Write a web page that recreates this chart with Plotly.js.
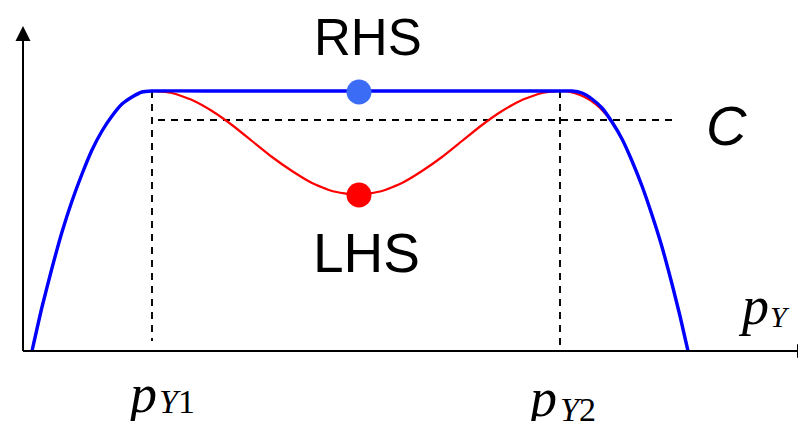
<!DOCTYPE html>
<html>
<head>
<meta charset="utf-8">
<script src="https://cdn.plot.ly/plotly-3.0.1.min.js"></script>
<style>html,body{margin:0;padding:0;background:#fff;}#chart{width:798px;height:421px;}</style>
</head>
<body>
<div id="chart"></div>
<script>
// Values (arbitrary units: p_Y along x, level along y)
const rhsX = [9, 19, 29, 39, 49, 59, 69, 79, 89, 99, 109, 119, 129, 200, 300, 400, 500, 537, 549, 559, 569, 579, 589, 599, 609, 619, 629, 639, 649, 657, 665];
const rhsY = [0, 44, 83, 119, 150, 177, 201, 220, 235, 247, 254, 259, 260, 260, 260, 260, 260, 260, 260, 258, 252, 243, 229, 212, 190, 165, 136, 104, 67, 35, 0];

const lhsX = [9, 19, 29, 39, 49, 59, 69, 79, 89, 99, 109, 119, 129, 149, 169, 189, 209, 229, 249, 269, 289, 309, 334, 359, 379, 399, 419, 439, 459, 479, 499, 519, 537, 547, 557, 567, 577, 589, 599, 609, 619, 629, 639, 649, 657, 665];
const lhsY = [0, 44, 83, 119, 150, 177, 201, 220, 235, 247, 254, 259, 260, 258, 251, 240, 226, 210, 194, 180, 168, 160, 156, 160, 168, 180, 194, 210, 226, 240, 251, 258, 260, 259, 256, 251, 243, 229, 212, 190, 165, 136, 104, 67, 35, 0];

const pY1 = 129, pY2 = 537;      // the two marked prices
const cLevel = 231;              // level C
const cFrom = 135, cTo = 649;    // extent of the C line
const peakLevel = 260;
const dotX = 336;
const rhsDot = 259, lhsDot = 156;

const dash = {color: '#000', width: 1.9, dash: '7px,6px'};
const traces = [
  {x: [cFrom, cTo], y: [cLevel, cLevel], mode: 'lines', line: dash, hoverinfo: 'skip'},
  {x: [pY1, pY1], y: [peakLevel, 10], mode: 'lines', line: dash, hoverinfo: 'skip'},
  {x: [pY2, pY2], y: [peakLevel, 6], mode: 'lines', line: dash, hoverinfo: 'skip'},
  {x: lhsX, y: lhsY, mode: 'lines', line: {color: '#ff0000', width: 2.2, shape: 'spline', smoothing: 0.5}, hoverinfo: 'skip'},
  {x: rhsX, y: rhsY, mode: 'lines', line: {color: '#0000ff', width: 3.4, shape: 'spline', smoothing: 0.5}, hoverinfo: 'skip'},
  {x: [dotX], y: [rhsDot], mode: 'markers', marker: {color: '#3b6cf6', size: 25}, hoverinfo: 'skip'},
  {x: [dotX], y: [lhsDot], mode: 'markers', marker: {color: '#ff0000', size: 25}, hoverinfo: 'skip'}
];

const serif = 'Liberation Serif, Times New Roman, serif';
const sans = 'Liberation Sans, Arial, sans-serif';
const ann = (x, y, text, size, family, xanchor) => ({
  x: x, y: y, xref: 'x', yref: 'y', text: text, showarrow: false,
  xanchor: xanchor || 'center', yanchor: 'middle',
  font: {family: family, size: size, color: '#000'}
});

const layout = {
  width: 798, height: 421,
  margin: {l: 0, r: 0, t: 0, b: 0},
  paper_bgcolor: '#fff', plot_bgcolor: '#fff',
  showlegend: false,
  xaxis: {range: [-23, 775], visible: false, fixedrange: true},
  yaxis: {range: [-70, 351], visible: false, fixedrange: true},
  shapes: [
    {type: 'line', xref: 'x', yref: 'y', x0: 0, y0: 0, x1: 0, y1: 312, line: {color: '#000', width: 2}},
    {type: 'path', xref: 'x', yref: 'y', path: 'M -7.5,310 L 7.5,310 L 0,325 Z', fillcolor: '#000', line: {color: '#000', width: 0}},
    {type: 'line', xref: 'x', yref: 'y', x0: 0, y0: 0, x1: 775, y1: 0, line: {color: '#000', width: 2}},
    {type: 'path', xref: 'x', yref: 'y', path: 'M 774,-7 L 774,7 L 789,0 Z', fillcolor: '#000', line: {color: '#000', width: 0}}
  ],
  annotations: [
    ann(345, 314, 'RHS', 51, sans),
    ann(343, 98, 'LHS', 55, sans),
    ann(703, 226, '<i>C</i>', 56, sans),
    ann(713, 45, '<i>p</i>', 54, serif, 'left'),
    ann(745, 35, '<i>Y</i>', 30, serif, 'left'),
    ann(101, -43, '<i>p</i>', 54, serif, 'left'),
    ann(134, -50, '<i>Y</i>1', 34, serif, 'left'),
    ann(501, -47, '<i>p</i>', 54, serif, 'left'),
    ann(535, -58, '<i>Y</i>2', 34, serif, 'left')
  ]
};

Plotly.newPlot('chart', traces, layout, {staticPlot: true, displayModeBar: false});
</script>
</body>
</html>
